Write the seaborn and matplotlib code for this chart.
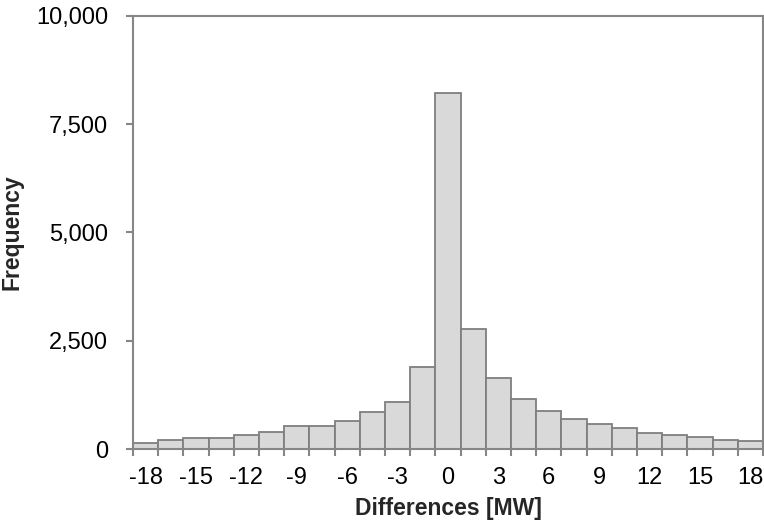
import matplotlib
matplotlib.use("Agg")
import matplotlib.pyplot as plt
import seaborn as sns
import pandas as pd
from matplotlib.ticker import FixedLocator, FuncFormatter

# Data
bin_centers = [-18, -16.5, -15, -13.5, -12, -10.5, -9, -7.5, -6, -4.5, -3, -1.5,
               0, 1.5, 3, 4.5, 6, 7.5, 9, 10.5, 12, 13.5, 15, 16.5, 18]
frequency = [150, 205, 245, 262, 320, 400, 530, 530, 650, 865, 1095, 1890,
             8230, 2760, 1630, 1150, 868, 690, 575, 475, 370, 325, 270, 215, 185]
tick_labels = ["-18", "-15", "-12", "-9", "-6", "-3", "0", "3", "6", "9", "12", "15", "18"]
y_ticks = [0, 2500, 5000, 7500, 10000]

sns.set_style("white")
plt.rcParams['font.family'] = ['Liberation Sans', 'DejaVu Sans']

df = pd.DataFrame({"bin": [str(b) for b in bin_centers], "freq": frequency})

fig = plt.figure(figsize=(7.64, 5.28), dpi=100)
ax = fig.add_axes([133/764, 1 - 449/528, (763 - 133)/764, (449 - 16)/528])

sns.barplot(data=df, x="bin", y="freq", order=df["bin"].tolist(), ax=ax,
            color="#d9d9d9", width=1.0, edgecolor="#7f7f7f", linewidth=1.3,
            saturation=1)

n = len(bin_centers)
ax.set_xlim(-0.5, n - 0.5)
ax.set_ylim(0, 10000)

# x ticks: labels every other bar, tick marks at bar boundaries
label_pos = [i for i, b in enumerate(bin_centers) if float(b).is_integer() and str(int(b)) in tick_labels]
ax.set_xticks(label_pos)
ax.set_xticklabels(tick_labels)
ax.xaxis.set_minor_locator(FixedLocator([i - 0.5 for i in range(n + 1)]))
ax.tick_params(axis="x", which="major", length=0, pad=13, labelsize=17, colors="black")
ax.tick_params(axis="x", which="minor", length=5, width=1.5, color="#868686", direction="out", bottom=True)

ax.set_yticks(y_ticks)
ax.yaxis.set_major_formatter(FuncFormatter(lambda v, p: f"{int(v):,}"))
ax.tick_params(axis="y", which="major", length=5, width=1.5, color="#868686",
               direction="out", left=True, pad=13, labelsize=17, labelcolor="black")

for s in ax.spines.values():
    s.set_visible(True)
    s.set_color("#868686")
    s.set_linewidth(1.5)

ax.set_xlabel("Differences [MW]", fontsize=16.5, fontweight="bold", labelpad=6)
ax.set_ylabel("Frequency", fontsize=16.5, fontweight="bold", labelpad=9)

fig.savefig("out.png", dpi=100)
